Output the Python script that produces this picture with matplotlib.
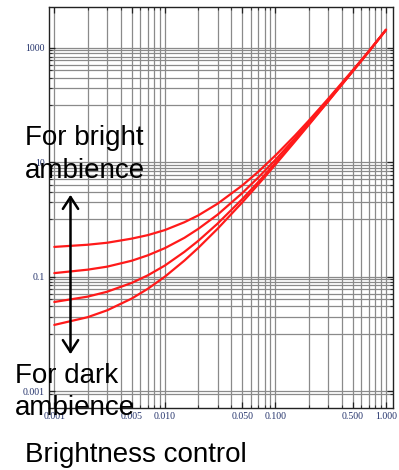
import matplotlib
matplotlib.use("Agg")
import matplotlib.pyplot as plt
from matplotlib.ticker import FixedLocator, NullFormatter

# ---- data ----
x_vals = [0.001, 0.002, 0.003, 0.005, 0.007, 0.01, 0.015, 0.02, 0.03,
          0.05, 0.07, 0.1, 0.15, 0.2, 0.3, 0.5, 0.7, 1.0]
curve_1 = [0.33, 0.36, 0.39, 0.46, 0.53, 0.65, 0.89, 1.17, 1.88,
           3.9, 6.8, 13.1, 29.1, 53, 128, 403, 872, 2050]
curve_2 = [0.115, 0.132, 0.149, 0.189, 0.235, 0.314, 0.475, 0.68, 1.21,
           2.87, 5.4, 11.0, 26.0, 48.8, 121, 394, 864, 2050]
curve_3 = [0.036, 0.0446, 0.0543, 0.0774, 0.105, 0.156, 0.27, 0.42, 0.844,
           2.25, 4.5, 9.7, 23.9, 46.0, 117, 388, 858, 2050]
curve_4 = [0.0143, 0.0195, 0.0257, 0.0412, 0.0611, 0.0996, 0.19, 0.316, 0.686,
           1.97, 4.09, 9.06, 22.9, 44.6, 115, 385, 855, 2050]
curves = [curve_1, curve_2, curve_3, curve_4]

x_ticks = [0.001, 0.005, 0.01, 0.05, 0.1, 0.5, 1.0]
x_tick_labels = ["0.001", "0.005", "0.010", "0.050", "0.100", "0.500", "1.000"]
y_ticks = [1000, 10, 0.1, 0.001]
y_tick_labels = ["1000", "10", "0.1", "0.001"]
x_grid = [m * d for d in (0.001, 0.01, 0.1) for m in range(1, 10)] + [1.0]
y_grid = ([m * 100 for m in range(1, 11)] + [m * 1 for m in range(1, 11)]
          + [m * 0.01 for m in range(1, 11)] + [0.001, 0.0009])

# ---- figure ----
W, H = 399, 470
fig = plt.figure(figsize=(W / 100, H / 100), dpi=100)
ax = fig.add_axes([49 / W, 62 / H, 344 / W, 401 / H])
ax.set_xscale("log")
ax.set_yscale("log")
ax.set_xlim(0.000895, 1.157)
ax.set_ylim(0.000505, 5140)

for c in curves:
    ax.plot(x_vals, c, color="#ff1a1a", lw=1.6, zorder=3, solid_capstyle="round")

# ticks
ax.xaxis.set_major_locator(FixedLocator(x_ticks))
ax.xaxis.set_minor_locator(FixedLocator(x_grid))
ax.xaxis.set_minor_formatter(NullFormatter())
ax.set_xticklabels(x_tick_labels)
ax.yaxis.set_major_locator(FixedLocator(y_ticks))
ax.yaxis.set_minor_locator(FixedLocator(y_grid))
ax.yaxis.set_minor_formatter(NullFormatter())
ax.set_yticklabels(y_tick_labels)

lab_font = dict(family="Liberation Serif", size=7, color="#22316a")
for t in ax.get_xticklabels() + ax.get_yticklabels():
    t.set_fontfamily("Liberation Serif")
    t.set_fontsize(7)
    t.set_color("#22316a")
ax.tick_params(which="major", direction="in", length=4, width=0.9,
               top=True, right=True, pad=3, color="#222222")
ax.tick_params(which="minor", direction="in", length=2.5, width=0.8,
               top=True, right=True, color="#333333")

ax.grid(True, which="both", color="#8a8a8a", lw=0.9)
ax.set_axisbelow(True)
for s in ax.spines.values():
    s.set_color("#222222")
    s.set_linewidth(1.0)

# annotations
sans = "Liberation Sans"
def ftext(px, py, s):
    fig.text(px / W, 1 - py / H, s, fontsize=20, family=sans, color="black",
             ha="left", va="baseline", zorder=5)

ftext(25, 145, "For bright")
ftext(25, 178, "ambience")
ftext(15, 383, "For dark")
ftext(15, 415, "ambience")
ftext(25, 462, "Brightness control")

fig.add_artist(matplotlib.patches.FancyArrowPatch(
    (70.5 / W, 1 - 357 / H), (70.5 / W, 1 - 192 / H),
    transform=fig.transFigure, arrowstyle="<->,head_length=0.85,head_width=0.55",
    mutation_scale=10, lw=1.8, color="black", zorder=6))

fig.savefig("out.png", dpi=100)
